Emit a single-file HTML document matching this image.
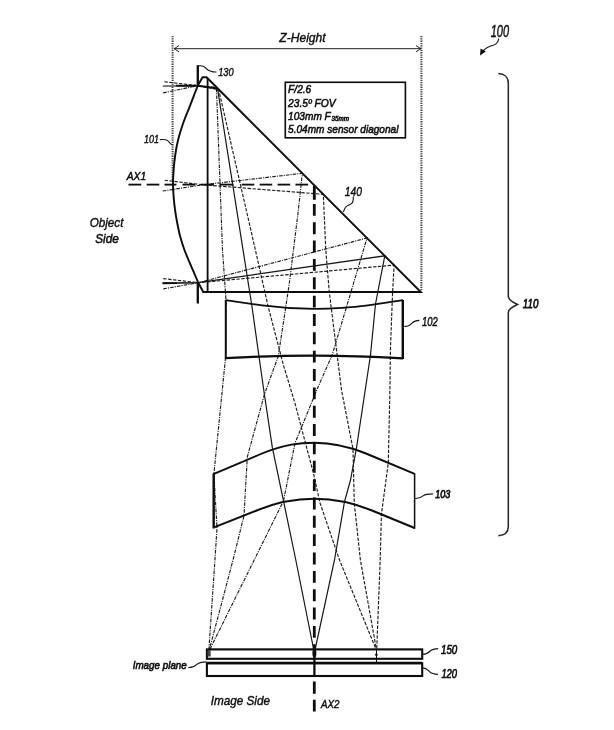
<!DOCTYPE html>
<html><head><meta charset="utf-8"><title>Lens system</title>
<style>
html,body{margin:0;padding:0;background:#fff;}
body{width:614px;height:730px;overflow:hidden;font-family:"Liberation Sans",sans-serif;}
svg{display:block;}
text{font-family:"Liberation Sans",sans-serif;font-style:italic;fill:#111;stroke:#111;stroke-width:0.38;}
.k{fill:none;stroke:#0a0a0a;stroke-width:1.9;stroke-linejoin:miter;stroke-linecap:butt;}
.k2{fill:none;stroke:#0a0a0a;stroke-width:1.5;}
.thin{fill:none;stroke:#222;stroke-width:1;}
.ld{fill:none;stroke:#1a1a1a;stroke-width:1.15;}
.br{fill:none;stroke:#2a2a2a;stroke-width:1.55;}
.dot{fill:none;stroke:#444;stroke-width:2;stroke-dasharray:1.3 1;}
.ax{fill:none;stroke:#0a0a0a;stroke-width:2.7;stroke-dasharray:13.3 5;}
.ax1{fill:none;stroke:#0a0a0a;stroke-width:1.7;stroke-dasharray:12.8 5;}
.rs{fill:none;stroke:#161616;stroke-width:1.2;}
.rd{fill:none;stroke:#1c1c1c;stroke-width:1.15;stroke-dasharray:3.4 1.5;}
.rdd{fill:none;stroke:#1c1c1c;stroke-width:1.15;stroke-dasharray:3.6 1.1 1.1 1.1;}
</style></head><body>
<svg width="614" height="730" viewBox="0 0 614 730">
<rect width="614" height="730" fill="#fff"/>
<defs><filter id="b" x="0" y="0" width="614" height="730" filterUnits="userSpaceOnUse"><feGaussianBlur stdDeviation="0.42"/></filter></defs>
<g id="all" filter="url(#b)">
<line class="dot" x1="172.6" y1="36" x2="172.6" y2="180"/>
<line class="dot" x1="421.4" y1="36" x2="421.4" y2="291"/>
<line class="thin" x1="174" y1="48.7" x2="421" y2="48.7"/>
<polyline class="thin" points="179,45.6 174.2,48.7 179,51.8"/>
<polyline class="thin" points="416,45.6 420.8,48.7 416,51.8"/>
<polyline class="rdd" points="163.2,92.9 197.8,85.6 216.4,87.4 222.5,250.0 226.0,300.0 225.5,358.0 213.9,473.8 217.0,528.0 215.6,550.0 208.8,651.0" />
<polyline class="rdd" points="162.7,191.0 203.0,184.8 302.3,173.3 298.4,210.0 289.1,285.0 278.3,356.0 264.4,394.5 247.3,457.0 244.0,515.7 233.0,560.0 209.0,651.0" />
<polyline class="rdd" points="163.3,288.9 198.3,282.7 367.0,238.0 346.5,307.0 332.0,355.5 318.0,387.0 295.0,443.2 283.5,500.9 254.2,560.0 209.3,650.5" />
<polyline class="rs" points="163.2,86.3 197.8,85.6 217.5,88.5 251.9,306.0 259.5,360.0 264.4,394.5 272.4,447.9 283.5,500.9 295.8,560.0 313.6,649.0" />
<polyline class="rs" points="162.4,283.2 198.3,282.7 384.8,255.8 375.5,304.0 370.5,355.0 356.4,448.5 350.5,480.0 344.4,502.1 334.5,560.0 315.2,649.0" />
<polyline class="rd" points="164.4,81.8 197.8,85.6 218.7,89.7 255.4,250.0 268.0,306.0 283.4,365.0 295.0,403.4 313.6,473.8 320.0,503.0 339.5,560.0 376.3,650.0" />
<polyline class="rd" points="164.7,180.3 203.0,184.8 323.3,194.3 325.8,250.0 329.2,291.4 341.5,390.0 353.0,449.0 354.3,503.4 360.4,560.0 376.5,650.0" />
<polyline class="rd" points="163.3,278.6 198.3,282.7 394.1,265.1 392.6,292.0 390.4,350.0 390.0,385.0 388.3,462.7 381.4,514.5 380.2,560.0 376.7,650.0" />
<line x1="162.6" y1="283.2" x2="177" y2="283.1" stroke="#0a0a0a" stroke-width="1.9"/>
<line x1="177" y1="283.1" x2="198" y2="282.7" stroke="#333" stroke-width="1.3"/>
<line x1="162.8" y1="86.2" x2="179" y2="86.1" stroke="#777" stroke-width="1.8"/>
<line x1="176" y1="85.6" x2="196" y2="85.8" stroke="#111" stroke-width="1.9"/>
<line x1="197.8" y1="85.8" x2="217" y2="88.3" stroke="#111" stroke-width="1.7"/>
<line x1="128.5" y1="184.6" x2="141.2" y2="184.6" stroke="#0a0a0a" stroke-width="1.8"/>
<line x1="146.7" y1="184.6" x2="159.3" y2="184.6" stroke="#0a0a0a" stroke-width="1.8"/>
<line x1="164.5" y1="184.6" x2="176.4" y2="184.6" stroke="#0a0a0a" stroke-width="1.8"/>
<line x1="182.5" y1="184.6" x2="195" y2="184.6" stroke="#0a0a0a" stroke-width="1.8"/>
<line x1="200.5" y1="184.6" x2="214" y2="184.6" stroke="#0a0a0a" stroke-width="1.8"/>
<line x1="219.5" y1="184.6" x2="233.4" y2="184.6" stroke="#0a0a0a" stroke-width="1.8"/>
<line x1="241.7" y1="184.6" x2="254.3" y2="184.6" stroke="#0a0a0a" stroke-width="1.8"/>
<line x1="259.7" y1="184.6" x2="272.2" y2="184.6" stroke="#0a0a0a" stroke-width="1.8"/>
<line x1="277.6" y1="184.6" x2="290.2" y2="184.6" stroke="#0a0a0a" stroke-width="1.8"/>
<line x1="295.5" y1="184.6" x2="308.1" y2="184.6" stroke="#0a0a0a" stroke-width="1.8"/>
<line x1="314.3" y1="185.6" x2="314.3" y2="199.8" stroke="#0a0a0a" stroke-width="2.8"/>
<line class="ax" x1="314.3" y1="203.9" x2="314.3" y2="649" style="stroke-width:2.8;stroke-dasharray:11.9 6.45"/>
<line class="ax" x1="314.3" y1="681.6" x2="314.3" y2="711.5" style="stroke-width:2.8;stroke-dasharray:12.2 6.0"/>
<line class="k" x1="314.4" y1="649" x2="314.4" y2="676" style="stroke-width:2.2"/>
<path class="k" d="M197.8,85.6 L202.6,77.3 L206.6,77.3 L420.8,292 L203.2,292 L198.3,282.7"/>
<line class="k" x1="207.6" y1="78" x2="207.6" y2="292" style="stroke-width:1.8"/>
<line class="k" x1="197.8" y1="65.2" x2="197.8" y2="86" style="stroke-width:2.3"/>
<line class="k" x1="197.8" y1="282" x2="197.8" y2="303.5" style="stroke-width:2.3"/>
<path class="k" d="M197.70,85.80 C197.05,87.47 195.28,91.97 193.80,95.80 C192.32,99.63 190.48,104.48 188.80,108.80 C187.12,113.12 185.18,117.63 183.70,121.70 C182.22,125.77 181.02,129.37 179.90,133.20 C178.78,137.03 177.80,140.87 177.00,144.70 C176.20,148.53 175.65,152.12 175.10,156.20 C174.55,160.28 174.05,164.57 173.70,169.20 C173.35,173.83 173.00,179.30 173.00,184.00 C173.00,188.70 173.35,193.02 173.70,197.40 C174.05,201.78 174.50,205.98 175.10,210.30 C175.70,214.62 176.47,218.98 177.30,223.30 C178.13,227.62 178.95,231.88 180.10,236.20 C181.25,240.52 182.75,245.12 184.20,249.20 C185.65,253.28 187.20,256.87 188.80,260.70 C190.40,264.53 192.23,268.57 193.80,272.20 C195.37,275.83 197.47,280.78 198.20,282.50" style="stroke-width:1.9"/>
<path class="k" d="M225.6,300.2 L262,305.4 C285,308.4 300,308.8 314.4,308.8 C330,308.8 348,308.0 368,305.4 L403,300.2" style="stroke-width:1.7"/>
<path class="k" d="M225.6,358.2 C262,356.2 290,355.6 314.4,355.6 C340,355.6 368,356.3 403,358.4" style="stroke-width:2.3"/>
<line class="k" x1="402.8" y1="300" x2="402.8" y2="359" style="stroke-width:2.4"/>
<line class="k" x1="225.8" y1="300" x2="225.8" y2="359" style="stroke-width:2"/>
<path class="k" d="M213.4,474.2 L262,453.5 C285,444 300,442.8 314.4,442.8 C330,442.8 345,445 366,453.5 L414.6,473.8" style="stroke-width:1.9"/>
<path class="k" d="M414.6,528 L372,510.5 C350,501.5 330,498.8 314.4,498.8 C298,498.8 280,501 258,510 L213.4,527.6" style="stroke-width:1.9"/>
<line class="k" x1="213.7" y1="473.5" x2="213.7" y2="528.4" style="stroke-width:2.4"/>
<line class="k" x1="414.6" y1="473.2" x2="414.6" y2="528.8" style="stroke-width:1.5"/>
<rect class="k" x="206.9" y="649.4" width="215.3" height="9.4" style="stroke-width:2.1"/>
<rect class="k" x="206.9" y="663.2" width="215.3" height="12.8" style="stroke-width:2.1"/>
<line class="k" x1="206.9" y1="663" x2="422.2" y2="663" style="stroke-width:2.6"/>
<line class="k2" x1="376.5" y1="650" x2="376.5" y2="662" style="stroke-width:1"/>
<circle cx="376.4" cy="654.8" r="1.3" fill="#111"/>
<rect x="207.5" y="650" width="3.2" height="6.5" fill="#444"/>
<ellipse cx="314.4" cy="653" rx="2" ry="4.5" fill="#111"/>
<rect class="k" x="285.3" y="82.3" width="120.1" height="55.5" style="stroke-width:1.6"/>
<text x="288.1" y="93.3" font-size="11.5" textLength="23.2" lengthAdjust="spacingAndGlyphs" style="stroke-width:0.58">F/2.6</text>
<text x="288.1" y="106.7" font-size="11.5" textLength="47.5" lengthAdjust="spacingAndGlyphs" style="stroke-width:0.58">23.5&#186; FOV</text>
<text x="288.1" y="119.8" font-size="11.5" textLength="42.7" lengthAdjust="spacingAndGlyphs" style="stroke-width:0.58">103mm F</text>
<text x="331.6" y="120.8" font-size="6.8" textLength="17.3" lengthAdjust="spacingAndGlyphs" style="stroke-width:0.6">35mm</text>
<text x="288.1" y="132.9" font-size="11.5" textLength="110.3" lengthAdjust="spacingAndGlyphs" style="stroke-width:0.58">5.04mm sensor diagonal</text>
<text x="279.3" y="42.0" font-size="12.2" textLength="46.3" lengthAdjust="spacingAndGlyphs" style="stroke-width:0.4">Z-Height</text>
<text x="490.7" y="36.6" font-size="16" textLength="18.3" lengthAdjust="spacingAndGlyphs" style="stroke-width:0.5">100</text>
<text x="218.2" y="76.2" font-size="11.8" textLength="15.4" lengthAdjust="spacingAndGlyphs" style="stroke-width:0.45">130</text>
<text x="144.0" y="143.4" font-size="11.8" textLength="15.0" lengthAdjust="spacingAndGlyphs" style="stroke-width:0.45">101</text>
<text x="126.7" y="179.9" font-size="11.4" textLength="19.5" lengthAdjust="spacingAndGlyphs" style="stroke-width:0.5">AX1</text>
<text x="89.7" y="226.6" font-size="12.6" textLength="33.7" lengthAdjust="spacingAndGlyphs" style="stroke-width:0.42">Object</text>
<text x="95.2" y="242.8" font-size="13.6" textLength="23.6" lengthAdjust="spacingAndGlyphs" style="stroke-width:0.55">Side</text>
<text x="344.8" y="196.2" font-size="12.4" textLength="17.1" lengthAdjust="spacingAndGlyphs" style="stroke-width:0.45">140</text>
<text x="422.0" y="326.2" font-size="12.4" textLength="15.8" lengthAdjust="spacingAndGlyphs" style="stroke-width:0.5">102</text>
<text x="522.8" y="307.8" font-size="12.7" textLength="15.6" lengthAdjust="spacingAndGlyphs" style="stroke-width:0.75">110</text>
<text x="435.2" y="498.0" font-size="11.4" textLength="15.0" lengthAdjust="spacingAndGlyphs" style="stroke-width:0.75">103</text>
<text x="441.0" y="654.1" font-size="12.4" textLength="16.3" lengthAdjust="spacingAndGlyphs" style="stroke-width:0.7">150</text>
<text x="441.4" y="678.2" font-size="12.4" textLength="15.7" lengthAdjust="spacingAndGlyphs" style="stroke-width:0.7">120</text>
<text x="132.7" y="669.3" font-size="10.8" textLength="54.1" lengthAdjust="spacingAndGlyphs" style="stroke-width:0.62">Image plane</text>
<text x="210.7" y="704.8" font-size="12.4" textLength="59.3" lengthAdjust="spacingAndGlyphs" style="stroke-width:0.42">Image Side</text>
<text x="321.0" y="707.8" font-size="11" textLength="18.5" lengthAdjust="spacingAndGlyphs" style="stroke-width:0.45">AX2</text>
<path class="ld" d="M197.8,65.9 C202,65.3 204,66 205.6,67.8 C208,70.8 210.5,72 216.6,72"/>
<path class="ld" d="M159.8,139.6 C163,139.4 166,139.1 167.7,140.6 C169.4,142.1 169.9,143.8 172,144.8"/>
<path class="ld" d="M353.2,196.6 C353.4,199.5 353.7,202 351.6,203.5 C349,205.2 346.8,205.3 345.6,207.3 C344.5,209 344,210.5 343.3,212"/>
<path class="ld" d="M404.2,326.3 C408.5,326.6 410.5,324.8 412.3,322.8 C414.3,320.8 416.5,320.5 419.4,320.4"/>
<path class="ld" d="M415,498.5 C419.5,498.8 421.5,497.3 423.4,495.6 C425.6,493.8 428.5,493.8 433,493.8"/>
<path class="ld" d="M422.8,654.3 C427,654.3 428.5,652.8 430.3,651 C432.5,648.9 434.5,648.7 438.2,648.6"/>
<path class="ld" d="M422.8,667.8 C426.3,667.8 427.7,669.8 429.5,671.6 C431.5,673.7 434,674.2 438,674.4"/>
<path class="ld" d="M188.3,667.5 C192.5,667.7 194.5,666.7 196.5,664.6 C198.8,662.3 201,661.8 206.5,661.8"/>
<path class="ld" d="M498.7,38.5 C498.3,42 496.8,44.3 493.2,45.3 C488.8,46.4 486,47.6 483,51"/>
<path d="M480.0,55.4 L480.6,48.6 L485.8,51.6 Z" fill="#111"/>
<path class="br" d="M498.3,73.6 C504.5,73.8 508.3,77.5 508.3,83 L508.3,296.3 C508.3,299.6 511,301.6 517.5,304.5 C511,307.4 508.3,309.6 508.3,312.4 L508.3,526.5 C508.3,532 504.5,535.3 498.3,535.7"/>
</g></svg></body></html>
